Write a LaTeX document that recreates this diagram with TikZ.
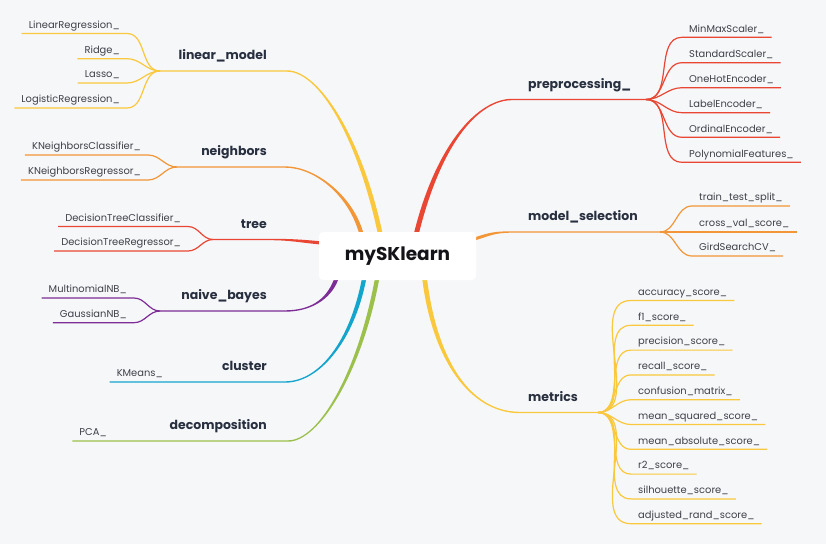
\documentclass[tikz,border=0pt]{standalone}
\usepackage{fontspec}
\setmainfont{Poppins}
\usetikzlibrary{calc}
\usetikzlibrary{backgrounds}
\definecolor{MapYellow}{RGB}{250,200,60}
\definecolor{MapOrange}{RGB}{242,150,55}
\definecolor{MapRed}{RGB}{234,70,52}
\definecolor{MapPurple}{RGB}{125,45,150}
\definecolor{MapCyan}{RGB}{20,165,205}
\definecolor{MapGreen}{RGB}{155,192,75}
\definecolor{MapPaper}{RGB}{246,247,249}
\definecolor{MapInk}{RGB}{20,20,24}
\definecolor{TopicInk}{RGB}{40,48,64}
\definecolor{LeafInk}{RGB}{62,64,72}
\tikzset{
	hub/.style={fill=white, rounded corners=4pt, minimum width=157pt, minimum height=48pt,
		text=MapInk, font=\bfseries\fontsize{18.5}{19}\selectfont},
	topicl/.style={anchor=base east, inner sep=0pt, text=TopicInk, font=\bfseries\fontsize{12.5}{13}\selectfont},
	topicr/.style={topicl, anchor=base west},
	leafl/.style={anchor=south east, inner xsep=7pt, inner ysep=3pt, text height=7pt, text depth=2pt,
		text=LeafInk, font=\fontsize{9.9}{10}\selectfont},
	leafr/.style={leafl, anchor=south west},
	twig/.style={line width=1.2pt}
}
\newcommand{\limb}[7]{%
	\fill[#1] ($(#2)+(#3)$) .. controls ($(#4)+(#3)$) and ($(#5)+(0,0.7)$) .. ($(#6)+(0,0.7)$)
		-- ($(#7)+(0,0.7)$) -- ($(#7)-(0,0.7)$) -- ($(#6)-(0,0.7)$)
		.. controls ($(#5)-(0,0.7)$) and ($(#4)-(#3)$) .. ($(#2)-(#3)$) -- cycle;}

\begin{document}
\begin{tikzpicture}[x=1pt, y=-1pt]
	\useasboundingbox (0,0) rectangle (826,544);
	\node[hub] (hub) at (397.5,256) {mySKlearn};

	\node[topicl] (lm) at (267,59.5) {linear\_model};
	\node[topicl] (nei) at (267,155.5) {neighbors};
	\node[topicl] (tr) at (267,228) {tree};
	\node[topicl] (nb) at (267,299.5) {naive\_bayes};
	\node[topicl] (cl) at (267,370.5) {cluster};
	\node[topicl] (dc) at (267,429.5) {decomposition};
	\node[topicr] (pp) at (528,88) {preprocessing\_};
	\node[topicr] (ms) at (528,220.5) {model\_selection};
	\node[topicr] (mt) at (528,401) {metrics};

	\node[leafl] (lr) at (127,33.5) {LinearRegression\_};
	\node[leafl] (rd) at (127,58.7) {Ridge\_};
	\node[leafl] (ls) at (127,83) {Lasso\_};
	\node[leafl] (lgr) at (127,108) {LogisticRegression\_};
	\node[leafl] (knc) at (148,155) {KNeighborsClassifier\_};
	\node[leafl] (knr) at (148,180) {KNeighborsRegressor\_};
	\node[leafl] (dtc) at (188,226.5) {DecisionTreeClassifier\_};
	\node[leafl] (dtr) at (188,251) {DecisionTreeRegressor\_};
	\node[leafl] (mnb) at (134,298) {MultinomialNB\_};
	\node[leafl] (gnb) at (134,322.7) {GaussianNB\_};
	\node[leafl] (km) at (170,382) {KMeans\_};
	\node[leafl] (pca) at (114,441) {PCA\_};

	\node[leafr] (mms) at (682,37.3) {MinMaxScaler\_};
	\node[leafr] (ssc) at (682,62.7) {StandardScaler\_};
	\node[leafr] (ohe) at (682,87.7) {OneHotEncoder\_};
	\node[leafr] (lbe) at (682,112.7) {LabelEncoder\_};
	\node[leafr] (ore) at (682,137.3) {OrdinalEncoder\_};
	\node[leafr] (pf) at (682,162.3) {PolynomialFeatures\_};
	\node[leafr] (tts) at (692,206) {train\_test\_split\_};
	\node[leafr] (cvs) at (692,232) {cross\_val\_score\_};
	\node[leafr] (gscv) at (692,256) {GirdSearchCV\_};
	\node[leafr] (acc) at (631,300.5) {accuracy\_score\_};
	\node[leafr] (fone) at (631,325.3) {f1\_score\_};
	\node[leafr] (prc) at (631,350.1) {precision\_score\_};
	\node[leafr] (rcl) at (631,374.9) {recall\_score\_};
	\node[leafr] (cfm) at (631,399.7) {confusion\_matrix\_};
	\node[leafr] (mse) at (631,424.5) {mean\_squared\_score\_};
	\node[leafr] (mae) at (631,449.3) {mean\_absolute\_score\_};
	\node[leafr] (rtwo) at (631,474.1) {r2\_score\_};
	\node[leafr] (sil) at (631,498.9) {silhouette\_score\_};
	\node[leafr] (ari) at (631,523.7) {adjusted\_rand\_score\_};

	\coordinate (lm-root) at ($(hub.north west)+(61,0)$);
	\coordinate (nei-root) at ($(hub.north west)+(42,0)$);
	\coordinate (tr-root) at ($(hub.north west)+(1,11)$);
	\coordinate (nb-root) at ($(hub.south west)+(17,0)$);
	\coordinate (cl-root) at ($(hub.south west)+(45,0)$);
	\coordinate (dc-root) at ($(hub.south west)+(58,0)$);
	\coordinate (pp-root) at ($(hub.north west)+(98,0)$);
	\coordinate (ms-root) at ($(hub.north east)+(-1,7)$);
	\coordinate (mt-root) at ($(hub.south west)+(106,0)$);
	\coordinate (lm-fork) at (160,71);
	\coordinate (nei-fork) at (177,167);
	\coordinate (tr-fork) at (213,239.5);
	\coordinate (nb-fork) at (160,311);
	\coordinate (pp-fork) at (646,99.5);
	\coordinate (ms-fork) at (660,232);
	\coordinate (mt-fork) at (598,412.5);

	\begin{scope}[on background layer]
		\fill[MapPaper] (0,0) rectangle (826,544);
		\limb{MapYellow}{lm-root}{-2.4,0}{360,140}{320,71}{287,71}{lm-fork}
		\limb{MapOrange}{nei-root}{-2.2,0}{350,195}{315,167}{285,167}{nei-fork}
		\limb{MapRed}{tr-root}{0,1.6}{300,241}{290,239.5}{270,239.5}{tr-fork}
		\limb{MapPurple}{nb-root}{2.2,0}{328,300}{310,311}{285,311}{nb-fork}
		\limb{MapCyan}{cl-root}{2.2,0}{352,340}{320,382}{285,382}{km.south west}
		\limb{MapGreen}{dc-root}{2.2,0}{360,370}{320,441}{288,441}{pca.south west}
		\limb{MapRed}{pp-root}{2.5,0}{440,140}{480,99.5}{512,99.5}{pp-fork}
		\limb{MapOrange}{ms-root}{0,1.6}{490,234}{495,232}{512,232}{ms-fork}
		\limb{MapYellow}{mt-root}{-2.4,0}{435,360}{470,412.5}{520,412.5}{mt-fork}

		\draw[twig, MapYellow] (lm-fork) to[out=180,in=0] (lr.south east) -- (lr.south west);
		\draw[twig, MapYellow] (lm-fork) to[out=180,in=0] (rd.south east) -- (rd.south west);
		\draw[twig, MapYellow] (lm-fork) to[out=180,in=0] (ls.south east) -- (ls.south west);
		\draw[twig, MapYellow] (lm-fork) to[out=180,in=0] (lgr.south east) -- (lgr.south west);
		\draw[twig, MapOrange] (nei-fork) to[out=180,in=0] (knc.south east) -- (knc.south west);
		\draw[twig, MapOrange] (nei-fork) to[out=180,in=0] (knr.south east) -- (knr.south west);
		\draw[twig, MapRed] (tr-fork) to[out=180,in=0] (dtc.south east) -- (dtc.south west);
		\draw[twig, MapRed] (tr-fork) to[out=180,in=0] (dtr.south east) -- (dtr.south west);
		\draw[twig, MapPurple] (nb-fork) to[out=180,in=0] (mnb.south east) -- (mnb.south west);
		\draw[twig, MapPurple] (nb-fork) to[out=180,in=0] (gnb.south east) -- (gnb.south west);

		\draw[twig, MapRed] (pp-fork) to[out=0,in=180] (mms.south west) -- (mms.south east);
		\draw[twig, MapRed] (pp-fork) to[out=0,in=180] (ssc.south west) -- (ssc.south east);
		\draw[twig, MapRed] (pp-fork) to[out=0,in=180] (ohe.south west) -- (ohe.south east);
		\draw[twig, MapRed] (pp-fork) to[out=0,in=180] (lbe.south west) -- (lbe.south east);
		\draw[twig, MapRed] (pp-fork) to[out=0,in=180] (ore.south west) -- (ore.south east);
		\draw[twig, MapRed] (pp-fork) to[out=0,in=180] (pf.south west) -- (pf.south east);
		\draw[twig, MapOrange] (ms-fork) to[out=0,in=180] (tts.south west) -- (tts.south east);
		\draw[twig, MapOrange] (ms-fork) to[out=0,in=180] (cvs.south west) -- (cvs.south east);
		\draw[twig, MapOrange] (ms-fork) to[out=0,in=180] (gscv.south west) -- (gscv.south east);
		\draw[twig, MapYellow] (mt-fork) to[out=0,in=180] (acc.south west) -- (acc.south east);
		\draw[twig, MapYellow] (mt-fork) to[out=0,in=180] (fone.south west) -- (fone.south east);
		\draw[twig, MapYellow] (mt-fork) to[out=0,in=180] (prc.south west) -- (prc.south east);
		\draw[twig, MapYellow] (mt-fork) to[out=0,in=180] (rcl.south west) -- (rcl.south east);
		\draw[twig, MapYellow] (mt-fork) to[out=0,in=180] (cfm.south west) -- (cfm.south east);
		\draw[twig, MapYellow] (mt-fork) to[out=0,in=180] (mse.south west) -- (mse.south east);
		\draw[twig, MapYellow] (mt-fork) to[out=0,in=180] (mae.south west) -- (mae.south east);
		\draw[twig, MapYellow] (mt-fork) to[out=0,in=180] (rtwo.south west) -- (rtwo.south east);
		\draw[twig, MapYellow] (mt-fork) to[out=0,in=180] (sil.south west) -- (sil.south east);
		\draw[twig, MapYellow] (mt-fork) to[out=0,in=180] (ari.south west) -- (ari.south east);
	\end{scope}
\end{tikzpicture}
\end{document}
